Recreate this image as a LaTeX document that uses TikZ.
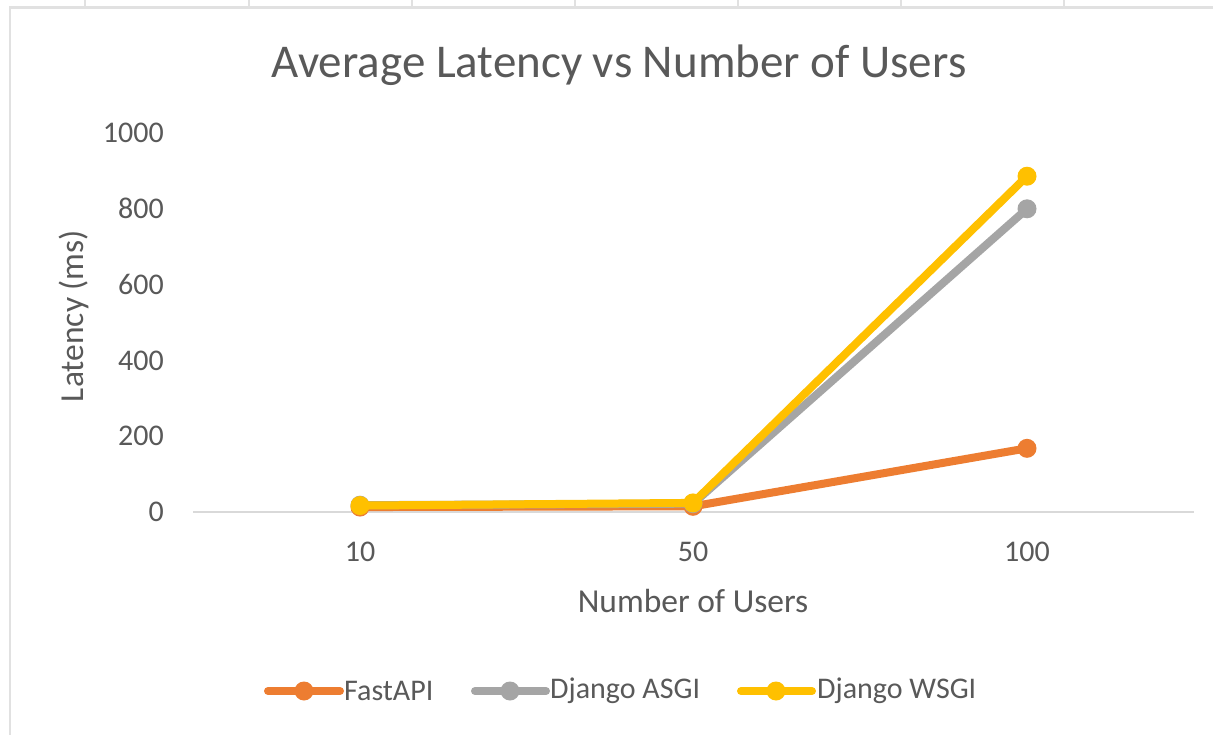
\documentclass[tikz,border=0pt]{standalone}
\usepackage{fontspec}
\setmainfont{Carlito}
\definecolor{txt}{HTML}{595959}
\definecolor{axisc}{HTML}{D9D9D9}
\definecolor{frame}{HTML}{E1E1E1}
\definecolor{cfast}{HTML}{ED7D31}
\definecolor{casgi}{HTML}{A5A5A5}
\definecolor{cwsgi}{HTML}{FFC000}
\tikzset{
  ticklbl/.style={text=txt,font=\fontsize{30}{36}\selectfont,inner sep=0pt},
  axtitle/.style={text=txt,font=\fontsize{33.5}{40}\selectfont,inner sep=0pt},
  series/.style={line width=8pt,line join=round,line cap=round},
  dot/.style={circle,inner sep=0pt,minimum size=19pt},
  legtxt/.style={text=txt,font=\fontsize{30}{36}\selectfont,inner sep=0pt,anchor=west}
}
\begin{document}
\begin{tikzpicture}[x=1pt,y=-1pt]
\useasboundingbox (0,0) rectangle (1213,735);
\fill[white] (0,0) rectangle (1213,735);
% spreadsheet frame
\foreach \gx in {85,249,412,575,738,901,1064}
  \draw[frame,line width=1.2pt] (\gx,0) -- (\gx,6);
\draw[frame,line width=3pt] (9,7.5) -- (1213,7.5);
\draw[frame,line width=2pt] (10,7.5) -- (10,735);
% title
\node[axtitle,font=\fontsize{47}{56}\selectfont] (title) at (619,65) {Average Latency vs Number of Users};
% y tick labels
\foreach \v in {0,200,400,600,800,1000}
  \node[ticklbl,anchor=east] (y\v) at (164,{512-0.379*\v}) {\v};
% x axis
\coordinate (axl) at (193,512);
\coordinate (axr) at (1194,512);
\draw[axisc,line width=2pt] (axl) -- (axr);
\node[ticklbl] (x10) at (360,552) {10};
\node[ticklbl] (x50) at (693,552) {50};
\node[ticklbl] (x100) at (1027,552) {100};
% axis titles
\node[axtitle] (xt) at (693,601) {Number of Users};
\node[axtitle,rotate=90] (yt) at (74,316) {Latency (ms)};
% data points
\foreach \s/\a/\b/\c in {f/13/15/168, a/18/22/800, w/17/24/886}{
  \coordinate (\s1) at (360,{512-0.379*\a});
  \coordinate (\s2) at (693,{512-0.379*\b});
  \coordinate (\s3) at (1027,{512-0.379*\c});
}
\draw[series,cfast] (f1) -- (f2) -- (f3);
\foreach \i in {1,2,3} \node[dot,fill=cfast] (fd\i) at (f\i) {};
\draw[series,casgi] (a1) -- (a2) -- (a3);
\foreach \i in {1,2,3} \node[dot,fill=casgi] (ad\i) at (a\i) {};
\draw[series,cwsgi] (w1) -- (w2) -- (w3);
\foreach \i in {1,2,3} \node[dot,fill=cwsgi] (wd\i) at (w\i) {};
% legend
\coordinate (l1a) at (268,691); \coordinate (l1b) at (340,691);
\draw[series,cfast] (l1a) -- (l1b);
\node[dot,fill=cfast] (l1d) at (304,691) {};
\node[legtxt] (l1t) at (344,691) {FastAPI};
\coordinate (l2a) at (475,691); \coordinate (l2b) at (546,691);
\draw[series,casgi] (l2a) -- (l2b);
\node[dot,fill=casgi] (l2d) at (510,691) {};
\node[legtxt] (l2t) at (550,691) {Django ASGI};
\coordinate (l3a) at (741,691); \coordinate (l3b) at (812,691);
\draw[series,cwsgi] (l3a) -- (l3b);
\node[dot,fill=cwsgi] (l3d) at (776,691) {};
\node[legtxt] (l3t) at (817,691) {Django WSGI};
\end{tikzpicture}
\end{document}
